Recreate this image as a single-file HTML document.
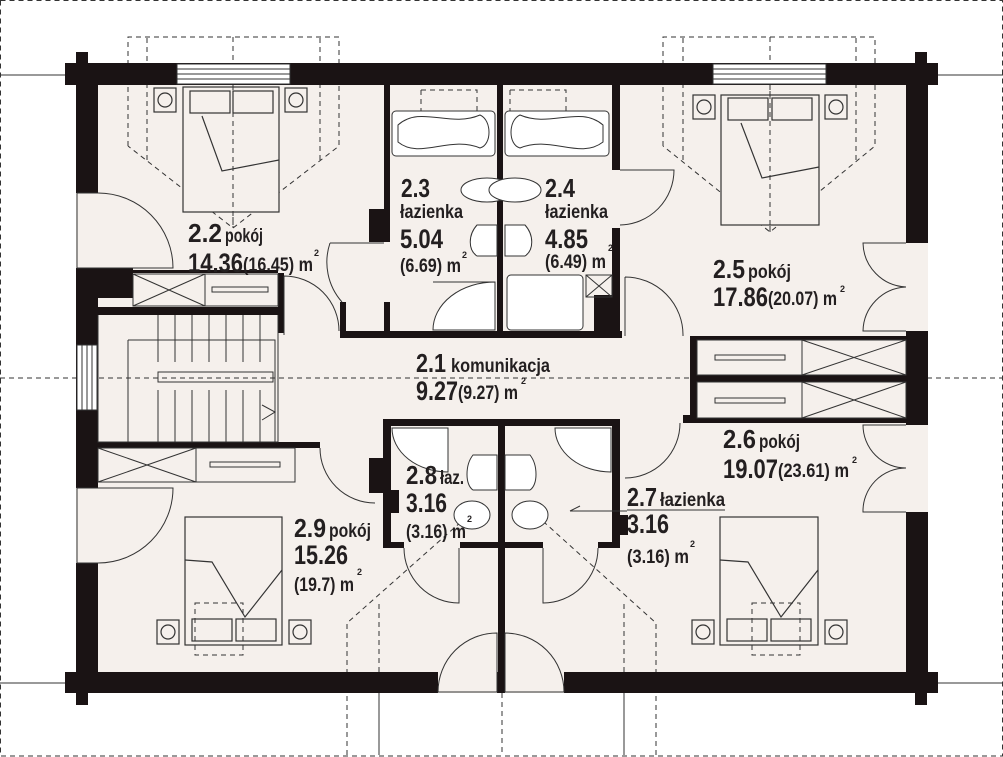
<!DOCTYPE html>
<html><head><meta charset="utf-8"><style>
html,body{margin:0;padding:0;background:#fff;}
svg{display:block;}
text{font-family:"Liberation Sans Narrow","Liberation Sans",sans-serif;font-weight:bold;fill:#231f20;}
</style></head><body>
<svg width="1003" height="757" viewBox="0 0 1003 757" xmlns="http://www.w3.org/2000/svg">
<rect width="1003" height="757" fill="#fff"/>
<g fill="none" stroke="#333" stroke-width="1">
<path d="M0 75H76M0 683H76M928 75H1003M928 683H1003"/>
<path d="M379 693V755M624 693V755"/>
</g>
<!-- interior floor -->
<rect x="98" y="85" width="808" height="588" fill="#f5f0ec"/>
<!-- dashed overlays -->
<g fill="none" stroke="#333" stroke-width="1" stroke-dasharray="5,4">
<path d="M0.5 0.5H1002.5V756H0.5Z"/>
<path d="M0 378H1003"/>
<path d="M128 146V37H339V146L233 228L128 146"/>
<path d="M147 160V37M320 160V37M233 37V228"/>
<path d="M663 146V37H875V146L770 232L663 146"/>
<path d="M683 160V37M856 160V37M770 37V232"/>
<path d="M347 755V623L480 505M656 755V623L525 505"/>
<path d="M379 672V600M624 672V600M502 693V755"/>
<path d="M195 603H243V655H195Z M752 603H800V655H752Z"/>
<path d="M421 90H477V152M421 90V152 M510 90H566V152M510 90V152"/>
</g>
<!-- walls -->
<g fill="#1a1314">
<rect x="65" y="63" width="873" height="22"/>
<rect x="76" y="52" width="12" height="15"/>
<rect x="915" y="52" width="12" height="15"/>
<rect x="76" y="63" width="22" height="630"/>
<rect x="906" y="63" width="22" height="630"/>
<rect x="65" y="672" width="873" height="21"/>
<rect x="76" y="690" width="12" height="15"/>
<rect x="915" y="690" width="12" height="15"/>
<rect x="384" y="85" width="6" height="135"/>
<rect x="369" y="209" width="21" height="33"/>
<rect x="384" y="302" width="6" height="36"/>
<rect x="340" y="331" width="282" height="7"/>
<rect x="497" y="85" width="6" height="250"/>
<rect x="612" y="85" width="8" height="85"/>
<rect x="612" y="228" width="8" height="110"/>
<rect x="594" y="295" width="18" height="40"/>
<rect x="340" y="302" width="6" height="36"/>
<rect x="98" y="270" width="180" height="3"/>
<rect x="98" y="268" width="35" height="30"/>
<rect x="98" y="307" width="185" height="8"/>
<rect x="278" y="273" width="6" height="60"/>
<rect x="690" y="336" width="7" height="80"/>
<rect x="697" y="336" width="209" height="4"/>
<rect x="697" y="375" width="209" height="7"/>
<rect x="697" y="418" width="209" height="5"/>
<rect x="683" y="415" width="14" height="8"/>
<rect x="383" y="419" width="237" height="7"/>
<rect x="383" y="419" width="8" height="129"/>
<rect x="369" y="458" width="14" height="35"/>
<rect x="391" y="490" width="8" height="23"/>
<rect x="498" y="419" width="7" height="274"/>
<rect x="612" y="419" width="8" height="129"/>
<rect x="620" y="515" width="8" height="20"/>
<rect x="383" y="542" width="21" height="6"/>
<rect x="460" y="542" width="83" height="6"/>
<rect x="598" y="542" width="22" height="6"/>
<rect x="98" y="442" width="222" height="6"/>
</g>
<g fill="#fff" stroke="#333" stroke-width="1">
<rect x="177" y="64" width="113" height="20"/>
<rect x="713" y="64" width="113" height="20"/>
<rect x="77" y="345" width="20" height="65"/>
</g>
<g stroke="#333" stroke-width="1">
<path d="M177 69H290M177 74H290M177 79H290M713 69H826M713 74H826M713 79H826"/>
<path d="M82 345V410M87 345V410M92 345V410"/>
</g>
<g fill="#f5f0ec" stroke="none">
<rect x="76" y="193" width="22" height="75"/>
<rect x="76" y="488" width="22" height="75"/>
<rect x="906" y="243" width="22" height="88"/>
<rect x="906" y="425" width="22" height="87"/>
<rect x="438" y="672" width="59" height="21"/>
<rect x="505" y="672" width="59" height="21"/>
</g>
<g fill="none" stroke="#333" stroke-width="1">
<path d="M77 193V268H173A75 75 0 0 0 98 193H77"/>
<path d="M77 563V488H173A75 75 0 0 1 98 563H77"/>
<path d="M330 243H384M330 243A60 60 0 0 0 342 302"/>
<path d="M284 276V335M284 276A55 55 0 0 1 339 331"/>
<path d="M620 170H674A55 55 0 0 1 620 225"/>
<path d="M625 277V336M625 277A58 58 0 0 1 683 336"/>
<path d="M906 243H863A45 45 0 0 0 906 287M906 331H863A45 45 0 0 1 906 287"/>
<path d="M906 425H863A43 43 0 0 0 906 468M906 512H863A43 43 0 0 1 906 468"/>
<path d="M320 448A55 55 0 0 0 375 503"/>
<path d="M625 478A55 55 0 0 0 680 423"/>
<path d="M404 548A55 55 0 0 0 459 603V548"/>
<path d="M598 548A55 55 0 0 1 543 603V548"/>
<path d="M497 692H438A59 59 0 0 1 497 633Z"/>
<path d="M505 692H564A59 59 0 0 0 505 633Z"/>
</g>
<g fill="none" stroke="#333" stroke-width="1">
<path d="M98 315V442H278V315"/>
<path d="M128 340H275V442M128 340V442"/>
<path d="M158 315V362M175 315V362M192 315V362M209 315V362M226 315V362M243 315V362M260 315V362"/>
<path d="M158 390V442M175 390V442M192 390V442M209 390V442M226 390V442M243 390V442M260 390V442"/>
<rect x="158" y="372" width="115" height="10"/>
<path d="M262 405L275 412L262 420"/>
</g>
<g fill="none" stroke="#333" stroke-width="1">
<rect x="133" y="274" width="72" height="32"/><path d="M133 274L205 306M205 274L133 306"/>
<rect x="205" y="274" width="73" height="32"/><rect x="212" y="287" width="56" height="5"/>
<rect x="98" y="448" width="98" height="34"/><path d="M98 448L196 482M196 448L98 482"/>
<rect x="196" y="448" width="99" height="34"/><rect x="210" y="462" width="70" height="5"/>
<rect x="697" y="340" width="105" height="35"/><rect x="715" y="355" width="70" height="5"/>
<rect x="802" y="340" width="104" height="35"/><path d="M802 340L906 375M906 340L802 375"/>
<rect x="697" y="382" width="105" height="36"/><rect x="715" y="398" width="70" height="5"/>
<rect x="802" y="382" width="104" height="36"/><path d="M802 382L906 418M906 382L802 418"/>
<rect x="586" y="275" width="26" height="22"/><path d="M586 275L612 297M612 275L586 297"/>
</g>
<g fill="#fff" stroke="#333" stroke-width="1">
<rect x="392" y="111" width="103" height="45" rx="4"/>
<path d="M398 125C420 105 450 128 480 115C492 120 492 145 480 148C450 135 420 160 398 142Z" fill="none"/>
<rect x="505" y="111" width="104" height="45" rx="4"/>
<path d="M603 125C580 105 550 128 520 115C508 120 508 145 520 148C550 135 580 160 603 142Z" fill="none"/>
<ellipse cx="487" cy="190" rx="26" ry="12"/><ellipse cx="515" cy="190" rx="26" ry="12"/>
<path d="M477 225C468 235 468 250 477 256H497V225Z"/><path d="M525 225C534 235 534 250 525 256H505V225Z"/>
<path d="M433 282H495V330H433A62 48 0 0 1 495 282Z"/>
<rect x="507" y="275" width="76" height="55" rx="4"/>
<path d="M392 428H448V472A56 44 0 0 1 392 428Z"/>
<path d="M555 428H611V472A56 44 0 0 1 555 428Z"/>
<path d="M473 455C465 465 465 485 473 490H497V455Z"/><path d="M530 455C538 465 538 485 530 490H505V455Z"/>
<ellipse cx="472" cy="515" rx="18" ry="14"/><ellipse cx="530" cy="515" rx="18" ry="14"/>
</g>
<g fill="#f5f0ec" stroke="#333" stroke-width="1.2">
<rect x="183" y="87" width="96" height="125"/>
<rect x="190" y="91" width="40" height="22"/><rect x="233" y="91" width="40" height="22"/>
<path d="M202 116L222 171L279 160" fill="none"/>
<rect x="154" y="88" width="22" height="24"/><rect x="285" y="88" width="22" height="24"/>
<circle cx="165" cy="100" r="7"/><circle cx="296" cy="100" r="7"/>
<rect x="721" y="95" width="98" height="130"/>
<rect x="728" y="98" width="40" height="22"/><rect x="772" y="98" width="40" height="22"/>
<path d="M741 123L762 178L819 167" fill="none"/>
<rect x="693" y="95" width="22" height="24"/><rect x="825" y="95" width="22" height="24"/>
<circle cx="704" cy="107" r="7"/><circle cx="836" cy="107" r="7"/>
<rect x="185" y="517" width="97" height="128"/>
<rect x="192" y="619" width="40" height="22"/><rect x="236" y="619" width="40" height="22"/>
<path d="M282 570L245 617L212 562L185 560" fill="none"/>
<rect x="157" y="620" width="22" height="24"/><rect x="289" y="620" width="22" height="24"/>
<circle cx="168" cy="632" r="7"/><circle cx="300" cy="632" r="7"/>
<rect x="720" y="517" width="98" height="128"/>
<rect x="727" y="619" width="40" height="22"/><rect x="771" y="619" width="40" height="22"/>
<path d="M818 570L781 617L748 562L720 560" fill="none"/>
<rect x="692" y="620" width="22" height="24"/><rect x="825" y="620" width="22" height="24"/>
<circle cx="703" cy="632" r="7"/><circle cx="836" cy="632" r="7"/>
</g>
<!-- redraw dashed over beds -->
<g fill="none" stroke="#333" stroke-width="1" stroke-dasharray="5,4">
<path d="M233 85V228M770 85V232M195 603H243V655H195Z M752 603H800V655H752Z"/>
</g>
<path d="M627 510H725M627 511H570" stroke="#333" stroke-width="1"/>
<path d="M570 511L580 506" stroke="#333" stroke-width="1"/>
<text x="188" y="242" font-size="26" textLength="34" lengthAdjust="spacingAndGlyphs">2.2</text>
<text x="225" y="242" font-size="19" textLength="38" lengthAdjust="spacingAndGlyphs">pokój</text>
<text x="188" y="272" font-size="27" textLength="55" lengthAdjust="spacingAndGlyphs">14.36</text>
<text x="243" y="271" font-size="19" textLength="70" lengthAdjust="spacingAndGlyphs">(16.45) m</text>
<text x="314" y="256" font-size="9">2</text>
<text x="401" y="197" font-size="26" textLength="29" lengthAdjust="spacingAndGlyphs">2.3</text>
<text x="400" y="218" font-size="19" textLength="63" lengthAdjust="spacingAndGlyphs">łazienka</text>
<text x="400" y="248" font-size="27" textLength="43" lengthAdjust="spacingAndGlyphs">5.04</text>
<text x="400" y="272" font-size="19" textLength="61" lengthAdjust="spacingAndGlyphs">(6.69) m</text>
<text x="462" y="258" font-size="9">2</text>
<text x="545" y="197" font-size="26" textLength="30" lengthAdjust="spacingAndGlyphs">2.4</text>
<text x="545" y="218" font-size="19" textLength="63" lengthAdjust="spacingAndGlyphs">łazienka</text>
<text x="545" y="248" font-size="27" textLength="43" lengthAdjust="spacingAndGlyphs">4.85</text>
<text x="545" y="268" font-size="19" textLength="61" lengthAdjust="spacingAndGlyphs">(6.49) m</text>
<text x="608" y="251" font-size="9">2</text>
<text x="713" y="278" font-size="26" textLength="32" lengthAdjust="spacingAndGlyphs">2.5</text>
<text x="748" y="278" font-size="19" textLength="43" lengthAdjust="spacingAndGlyphs">pokój</text>
<text x="713" y="306" font-size="27" textLength="55" lengthAdjust="spacingAndGlyphs">17.86</text>
<text x="768" y="305" font-size="19" textLength="69" lengthAdjust="spacingAndGlyphs">(20.07) m</text>
<text x="840" y="292" font-size="9">2</text>
<text x="416" y="372" font-size="26" textLength="30" lengthAdjust="spacingAndGlyphs">2.1</text>
<text x="451" y="372" font-size="19" textLength="99" lengthAdjust="spacingAndGlyphs">komunikacja</text>
<text x="416" y="400" font-size="27" textLength="42" lengthAdjust="spacingAndGlyphs">9.27</text>
<text x="458" y="399" font-size="19" textLength="60" lengthAdjust="spacingAndGlyphs">(9.27) m</text>
<text x="521" y="384" font-size="9">2</text>
<text x="723" y="448" font-size="26" textLength="33" lengthAdjust="spacingAndGlyphs">2.6</text>
<text x="759" y="448" font-size="19" textLength="41" lengthAdjust="spacingAndGlyphs">pokój</text>
<text x="723" y="478" font-size="27" textLength="55" lengthAdjust="spacingAndGlyphs">19.07</text>
<text x="778" y="477" font-size="19" textLength="71" lengthAdjust="spacingAndGlyphs">(23.61) m</text>
<text x="852" y="463" font-size="9">2</text>
<text x="406" y="484" font-size="26" textLength="31" lengthAdjust="spacingAndGlyphs">2.8</text>
<text x="440" y="484" font-size="19" textLength="24" lengthAdjust="spacingAndGlyphs">łaz.</text>
<text x="406" y="512" font-size="27" textLength="41" lengthAdjust="spacingAndGlyphs">3.16</text>
<text x="406" y="538" font-size="19" textLength="60" lengthAdjust="spacingAndGlyphs">(3.16) m</text>
<text x="467" y="522" font-size="9">2</text>
<text x="627" y="506" font-size="26" textLength="30" lengthAdjust="spacingAndGlyphs">2.7</text>
<text x="660" y="506" font-size="19" textLength="65" lengthAdjust="spacingAndGlyphs">łazienka</text>
<text x="627" y="533" font-size="27" textLength="42" lengthAdjust="spacingAndGlyphs">3.16</text>
<text x="627" y="563" font-size="19" textLength="62" lengthAdjust="spacingAndGlyphs">(3.16) m</text>
<text x="690" y="547" font-size="9">2</text>
<text x="294" y="537" font-size="26" textLength="32" lengthAdjust="spacingAndGlyphs">2.9</text>
<text x="329" y="537" font-size="19" textLength="42" lengthAdjust="spacingAndGlyphs">pokój</text>
<text x="294" y="564" font-size="27" textLength="54" lengthAdjust="spacingAndGlyphs">15.26</text>
<text x="294" y="591" font-size="19" textLength="60" lengthAdjust="spacingAndGlyphs">(19.7) m</text>
<text x="357" y="575" font-size="9">2</text>
</svg>
</body></html>
